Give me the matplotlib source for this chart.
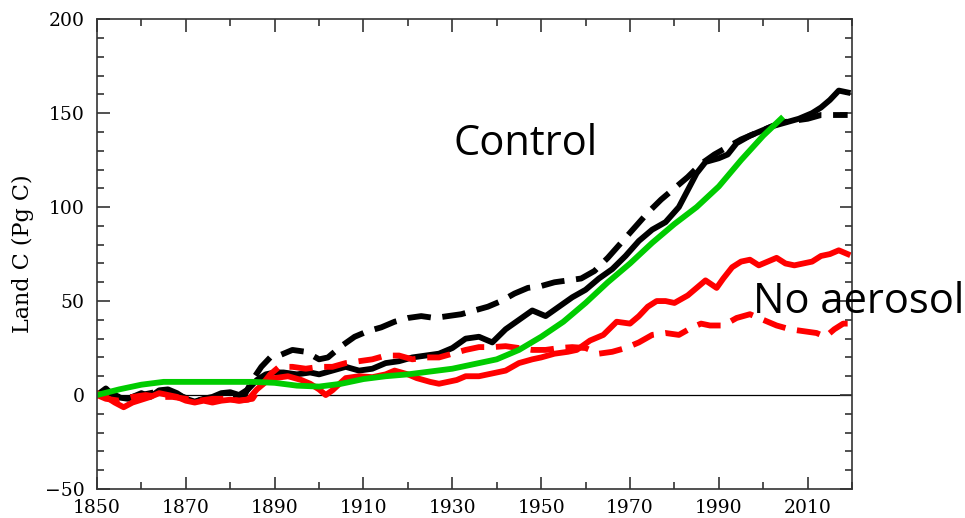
import matplotlib
matplotlib.use('Agg')
import matplotlib.pyplot as plt
from matplotlib.ticker import MultipleLocator

# green curve
green_years = [1850, 1855, 1860, 1865, 1870, 1875, 1880, 1885, 1890, 1895, 1900, 1905, 1910, 1915,
               1920, 1925, 1930, 1935, 1940, 1945, 1950, 1955, 1960, 1965, 1970, 1975, 1980, 1985,
               1990, 1995, 2000, 2004]
green_vals = [0, 3, 5.5, 7, 7, 7, 7, 7, 6.5, 5, 4.5, 6, 8.5, 10, 11, 12.5, 14, 16.5, 19, 24, 31, 39,
              49, 60, 70, 81, 91, 100, 111, 125, 138, 147]

# control, solid black
ctl_years = [1850, 1852, 1854, 1857, 1860, 1862, 1864, 1866, 1868, 1870, 1872, 1874, 1876, 1878,
             1880, 1882, 1884, 1886, 1888, 1890, 1892, 1895, 1898, 1900, 1903, 1906, 1909, 1912,
             1915, 1918, 1921, 1924, 1927, 1930, 1933, 1936, 1939, 1942, 1945, 1948, 1951, 1954,
             1957, 1960, 1963, 1966, 1969, 1972, 1975, 1978, 1981, 1983, 1985, 1987, 1990, 1992,
             1994, 1997, 2000, 2002, 2005, 2008, 2011, 2013, 2015, 2017, 2019]
ctl_vals = [0, 3.5, -1, -2, 1, -1, 2.5, 3, 1, -2, -3.5, -2, -1, 1, 1.5, 0, 3, 8, 11, 12, 12, 11, 12,
            11, 13, 15, 13, 14, 17, 18, 20, 21, 22, 25, 30, 31, 28, 35, 40, 45, 42, 47, 52, 56, 62,
            67, 74, 82, 88, 92, 100, 109, 118, 124, 126, 128, 134, 138, 141, 143, 145, 147, 150,
            153, 157, 162, 161]

# control, dashed black
ctl2_years = [1850, 1853, 1856, 1860, 1864, 1868, 1872, 1876, 1880, 1883, 1885, 1887, 1889, 1891,
              1894, 1897, 1900, 1902, 1905, 1908, 1911, 1914, 1917, 1920, 1923, 1926, 1929, 1932,
              1935, 1938, 1941, 1944, 1947, 1950, 1953, 1956, 1959, 1962, 1965, 1968, 1971, 1974,
              1977, 1980, 1983, 1986, 1989, 1992, 1995, 1998, 2001, 2004, 2007, 2010, 2013, 2016,
              2019]
ctl2_vals = [0, 1, -2, 0, 2, 0, -3, -2, 0, -1, 8, 15, 20, 21, 24, 23, 19, 20, 26, 31, 34, 36, 39,
             41, 42, 41, 42, 43, 45, 47, 50, 54, 57, 58, 60, 61, 62, 66, 73, 81, 89, 97, 104, 110,
             116, 123, 128, 132, 136, 139, 142, 145, 146, 147, 149, 149, 149]

# no aerosol, solid red
noa_years = [1850, 1852, 1854, 1856, 1858, 1860, 1862, 1864, 1866, 1868, 1870, 1872, 1874, 1876,
             1878, 1880, 1882, 1884, 1886, 1888, 1890, 1893, 1896, 1898, 1900, 1901.5, 1903, 1906,
             1909, 1912, 1915, 1917, 1920, 1922, 1925, 1927, 1929, 1931, 1933, 1936, 1939, 1942,
             1945, 1948, 1950, 1953, 1956, 1958, 1961, 1964, 1967, 1970, 1972, 1974, 1976, 1978,
             1980, 1983, 1985, 1987, 1989.5, 1991, 1993, 1995, 1997, 1999, 2001, 2003, 2005, 2007,
             2009, 2011, 2013, 2015, 2017, 2019]
noa_vals = [1, -1, -4, -6.5, -4, -2.5, -1, 1, 0, -1, -3, -4, -3, -4, -3, -2.5, -3, -2.5, 3, 7, 9,
            10, 8, 6, 3, 0, 2.5, 9, 10, 9.5, 11, 13, 11, 9, 7, 6, 7, 8, 10, 10, 11.5, 13, 17, 19,
            20, 22, 23, 24, 29, 32, 39, 38, 42, 47, 50, 50, 49, 53, 57, 61, 57, 62, 68, 71, 72, 69,
            71, 73, 70, 69, 70, 71, 74, 75, 77, 75]

# no aerosol, dashed red
noa2_years = [1850, 1852, 1855, 1858, 1861, 1864, 1867, 1870, 1873, 1876, 1879, 1882, 1885, 1887,
              1889, 1891, 1894, 1897, 1900, 1903, 1906, 1909, 1912, 1915, 1918, 1921, 1924, 1927,
              1930, 1933, 1936, 1939, 1942, 1945, 1948, 1951, 1954, 1957, 1960, 1963, 1966, 1969,
              1972, 1975, 1978, 1981, 1984, 1986, 1988, 1991, 1994, 1997, 2000, 2003, 2006, 2009,
              2012, 2014, 2016, 2018, 2019]
noa2_vals = [0, -2, -3, -1, 0, -1, -1, -2, -3, -2, -2, -3, -2, 5, 11, 15, 15, 14, 15, 15, 17, 18,
             19, 21, 21, 19, 20, 20, 22, 24, 25.5, 25.5, 26, 25, 24, 24, 25, 25.5, 25, 22, 23, 25,
             28, 32, 33, 32, 36, 38, 37, 37, 41, 43, 40, 37, 35, 34, 33, 31, 35, 38, 38]

plt.rcParams['font.family'] = 'DejaVu Serif'

fig = plt.figure(figsize=(9.65, 5.18), dpi=100)
ax = fig.add_axes([0.1005, 0.056, 0.7825, 0.907])

lw = 4.2
ax.axhline(0, color='black', lw=0.9, zorder=1)
ax.plot(ctl2_years, ctl2_vals, color='black', lw=lw, linestyle=(0, (4, 2)), dash_capstyle='butt')
ax.plot(ctl_years, ctl_vals, color='black', lw=lw)
ax.plot(noa2_years, noa2_vals, color='#ff0000', lw=lw, linestyle=(0, (4, 2)), dash_capstyle='butt')
ax.plot(noa_years, noa_vals, color='#ff0000', lw=lw)
ax.plot(green_years, green_vals, color='#00cc00', lw=lw)

ax.set_xlim(1850, 2020)
ax.set_ylim(-50, 200)
ax.set_xticks(range(1850, 2011, 20))
ax.set_yticks(range(-50, 201, 50))
ax.xaxis.set_minor_locator(MultipleLocator(10))
ax.yaxis.set_minor_locator(MultipleLocator(10))
ax.tick_params(which='both', direction='in', top=True, right=True, color='#333333', width=1.2)
ax.tick_params(which='major', length=9, labelsize=13.5)
ax.tick_params(axis='x', which='major', pad=7)
ax.tick_params(axis='y', which='major', pad=9)
ax.tick_params(which='minor', length=5)
for sp in ax.spines.values():
    sp.set_color('#333333')
    sp.set_linewidth(1.2)

ax.set_ylabel('Land C (Pg C)', fontsize=16, labelpad=8)

fig.text(453 / 965, 1 - 155 / 518, 'Control', family='Open Sans', fontsize=30,
         ha='left', va='baseline')
fig.text(753 / 965, 1 - 313 / 518, 'No aerosol', family='Open Sans', fontsize=30,
         ha='left', va='baseline')

plt.savefig('out.png', dpi=100)
plt.close()
